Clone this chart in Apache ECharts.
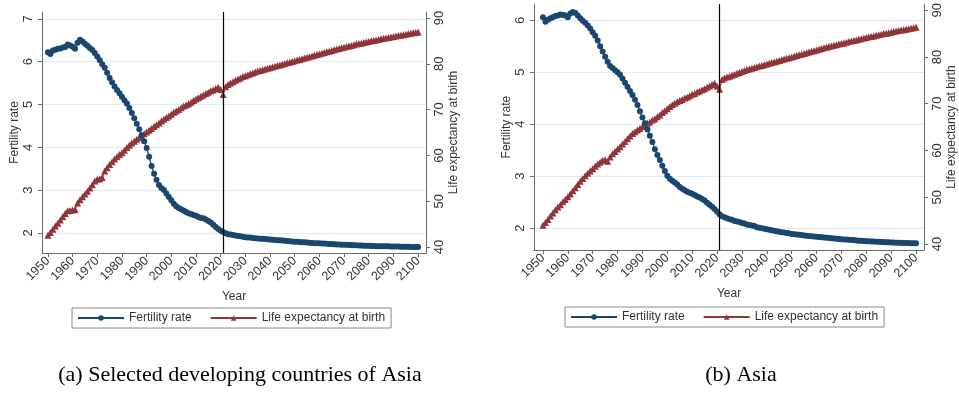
<!DOCTYPE html>
<html>
<head>
<meta charset="utf-8">
<script src="https://cdn.jsdelivr.net/npm/echarts@6/dist/echarts.min.js"></script>
<style>
  html, body { margin: 0; padding: 0; background: #fff; }
  #chart { width: 959px; height: 396px; }
</style>
</head>
<body>
<div id="chart"></div>
<script>
// years run 1950..2100, one value per year
const firstYear = 1950;
const projectionYear = 2021;
const yearTicks = [1950, 1960, 1970, 1980, 1990, 2000, 2010, 2020, 2030, 2040, 2050, 2060, 2070, 2080, 2090, 2100];
const fertilityTicksA = [2, 3, 4, 5, 6, 7];
const fertilityTicksB = [2, 3, 4, 5, 6];
const lifeTicks = [40, 50, 60, 70, 80, 90];

// (a) Selected developing countries of Asia
const fertilityA = [
  6.22, 6.18, 6.26, 6.28, 6.30, 6.31, 6.33, 6.34, 6.40, 6.38,
  6.35, 6.30, 6.44, 6.51, 6.47, 6.42, 6.37, 6.32, 6.27, 6.20,
  6.12, 6.03, 5.94, 5.86, 5.74, 5.62, 5.52, 5.42, 5.34, 5.26,
  5.18, 5.10, 5.02, 4.92, 4.80, 4.68, 4.55, 4.42, 4.28, 4.14,
  3.98, 3.78, 3.56, 3.38, 3.24, 3.12, 3.05, 3.00, 2.92, 2.84,
  2.76, 2.68, 2.62, 2.58, 2.55, 2.52, 2.49, 2.46, 2.44, 2.42,
  2.40, 2.37, 2.35, 2.34, 2.31, 2.28, 2.24, 2.19, 2.14, 2.09,
  2.05, 2.02, 1.99, 1.97, 1.96, 1.95, 1.94, 1.93, 1.92, 1.91,
  1.90, 1.895, 1.89, 1.88, 1.875, 1.87, 1.865, 1.86, 1.855, 1.85,
  1.845, 1.84, 1.835, 1.83, 1.825, 1.82, 1.815, 1.81, 1.805, 1.80,
  1.795, 1.79, 1.785, 1.78, 1.78, 1.775, 1.77, 1.765, 1.76, 1.76,
  1.755, 1.75, 1.75, 1.745, 1.74, 1.74, 1.735, 1.73, 1.73, 1.725,
  1.72, 1.72, 1.715, 1.715, 1.71, 1.71, 1.705, 1.705, 1.70, 1.70,
  1.70, 1.695, 1.695, 1.69, 1.69, 1.69, 1.685, 1.685, 1.685, 1.68,
  1.68, 1.68, 1.68, 1.675, 1.675, 1.675, 1.675, 1.67, 1.67, 1.67,
  1.67
];
const lifeA = [
  42.6, 43.2, 43.9, 44.6, 45.2, 45.9, 46.6, 47.3, 47.9, 48.0,
  48.1, 48.2, 49.6, 50.3, 51.0, 51.6, 52.2, 52.9, 53.6, 54.4,
  54.8, 54.9, 55.2, 56.6, 57.3, 58.0, 58.6, 59.2, 59.7, 60.2,
  60.6, 61.1, 61.7, 62.2, 62.7, 63.1, 63.5, 63.9, 64.3, 64.7,
  65.1, 65.5, 65.9, 66.3, 66.7, 67.1, 67.5, 67.9, 68.3, 68.6,
  69.0, 69.4, 69.7, 70.0, 70.4, 70.8, 71.0, 71.3, 71.6, 72.0,
  72.3, 72.6, 72.9, 73.2, 73.5, 73.8, 74.1, 74.3, 74.6, 74.9,
  74.4, 73.3, 75.0, 75.5, 75.8, 76.1, 76.4, 76.7, 76.9, 77.2,
  77.4, 77.6, 77.8, 78.0, 78.2, 78.4, 78.55, 78.7, 78.85, 79.0,
  79.15, 79.3, 79.45, 79.6, 79.75, 79.9, 80.05, 80.2, 80.35, 80.5,
  80.65, 80.8, 80.95, 81.1, 81.25, 81.4, 81.55, 81.7, 81.85, 82.0,
  82.15, 82.3, 82.45, 82.6, 82.75, 82.9, 83.05, 83.2, 83.35, 83.5,
  83.6, 83.75, 83.9, 84.0, 84.15, 84.3, 84.4, 84.5, 84.65, 84.75,
  84.85, 85.0, 85.1, 85.2, 85.3, 85.45, 85.55, 85.65, 85.75, 85.85,
  85.95, 86.05, 86.15, 86.25, 86.35, 86.45, 86.55, 86.65, 86.75, 86.85,
  86.95
];

// (b) Asia
const fertilityB = [
  6.06, 5.97, 6.01, 6.04, 6.06, 6.08, 6.09, 6.11, 6.10, 6.09,
  6.06, 6.13, 6.16, 6.14, 6.09, 6.04, 5.99, 5.95, 5.90, 5.84,
  5.77, 5.70, 5.61, 5.50, 5.40, 5.30, 5.20, 5.12, 5.08, 5.04,
  5.00, 4.95, 4.88, 4.80, 4.72, 4.64, 4.56, 4.47, 4.37, 4.25,
  4.13, 4.02, 3.90, 3.78, 3.66, 3.52, 3.41, 3.31, 3.20, 3.10,
  3.01, 2.95, 2.91, 2.88, 2.84, 2.79, 2.76, 2.73, 2.70, 2.68,
  2.66, 2.64, 2.61, 2.59, 2.56, 2.53, 2.49, 2.45, 2.41, 2.37,
  2.32, 2.27, 2.23, 2.21, 2.19, 2.17, 2.16, 2.14, 2.13, 2.12,
  2.10, 2.09, 2.07, 2.06, 2.05, 2.04, 2.02, 2.01, 2.00, 1.99,
  1.98, 1.97, 1.96, 1.95, 1.94, 1.93, 1.92, 1.915, 1.905, 1.90,
  1.89, 1.885, 1.88, 1.875, 1.87, 1.86, 1.855, 1.85, 1.845, 1.84,
  1.835, 1.83, 1.825, 1.82, 1.815, 1.81, 1.805, 1.80, 1.795, 1.79,
  1.785, 1.78, 1.78, 1.775, 1.77, 1.77, 1.765, 1.76, 1.76, 1.755,
  1.75, 1.75, 1.745, 1.745, 1.74, 1.74, 1.735, 1.735, 1.73, 1.73,
  1.725, 1.725, 1.72, 1.72, 1.72, 1.715, 1.715, 1.715, 1.71, 1.71,
  1.71
];
const lifeB = [
  44.0, 44.6, 45.2, 46.0, 46.6, 47.3, 47.9, 48.4, 49.0, 49.5,
  50.1, 50.7, 51.4, 52.0, 52.7, 53.4, 54.0, 54.6, 55.1, 55.6,
  56.1, 56.6, 57.1, 57.5, 57.9, 58.0, 57.7, 58.6, 59.3, 59.8,
  60.3, 60.8, 61.4, 61.9, 62.5, 63.1, 63.6, 64.0, 64.4, 64.7,
  65.1, 65.4, 65.8, 66.1, 66.5, 66.8, 67.2, 67.6, 68.1, 68.5,
  68.9, 69.4, 69.8, 70.1, 70.4, 70.7, 70.9, 71.2, 71.4, 71.7,
  72.0, 72.2, 72.5, 72.7, 73.0, 73.2, 73.5, 73.8, 74.1, 74.4,
  73.8, 73.1, 75.2, 75.5, 75.7, 75.9, 76.1, 76.3, 76.5, 76.7,
  76.9, 77.1, 77.3, 77.45, 77.6, 77.75, 77.9, 78.05, 78.2, 78.35,
  78.5, 78.65, 78.8, 78.95, 79.1, 79.25, 79.4, 79.55, 79.7, 79.85,
  80.0, 80.15, 80.3, 80.45, 80.6, 80.75, 80.9, 81.05, 81.2, 81.35,
  81.5, 81.65, 81.8, 81.95, 82.1, 82.25, 82.35, 82.5, 82.6, 82.75,
  82.9, 83.0, 83.15, 83.3, 83.4, 83.55, 83.65, 83.8, 83.9, 84.05,
  84.15, 84.3, 84.4, 84.5, 84.65, 84.75, 84.85, 85.0, 85.1, 85.2,
  85.3, 85.45, 85.55, 85.65, 85.75, 85.85, 85.95, 86.05, 86.15, 86.25,
  86.35
];

const FONT = '"Liberation Sans", Arial, sans-serif';
const AXIS_COLOR = '#6b6b6b';
const TEXT_COLOR = '#333';
const NAVY = '#1a476f';
const MAROON = '#90353b';

function toPairs(values) {
  return values.map((v, i) => [firstYear + i, v]);
}

// shared look of every axis
function axisBase(ticks) {
  return {
    type: 'value',
    axisLine: { show: true, onZero: false, lineStyle: { color: AXIS_COLOR, width: 1 } },
    axisTick: { show: true, length: 4, customValues: ticks, lineStyle: { color: AXIS_COLOR } },
    axisLabel: {
      customValues: ticks,
      color: TEXT_COLOR,
      fontFamily: FONT,
      fontSize: 12,
      formatter: (v) => String(v)
    },
    nameTextStyle: { color: TEXT_COLOR, fontFamily: FONT, fontSize: 12 },
    splitLine: { show: false }
  };
}

function xAxis(gridIndex, min, max) {
  const a = axisBase(yearTicks);
  a.gridIndex = gridIndex;
  a.min = min;
  a.max = max;
  a.name = 'Year';
  a.nameLocation = 'middle';
  a.nameGap = 33;
  a.axisLabel.rotate = 45;
  a.axisLabel.margin = 6;
  a.axisLabel.fontSize = 12.5;
  return a;
}

function fertilityAxis(gridIndex, min, max, ticks) {
  const a = axisBase(ticks);
  a.gridIndex = gridIndex;
  a.position = 'left';
  a.min = min;
  a.max = max;
  a.name = 'Fertility rate';
  a.nameLocation = 'middle';
  a.nameRotate = 90;
  a.nameGap = 21;
  a.axisLabel.rotate = 90;
  a.axisLabel.margin = 7;
  a.axisLabel.fontSize = 13;
  a.splitLine = { show: true, lineStyle: { color: '#e2ecf5', width: 1 } };
  return a;
}

function lifeAxis(gridIndex, min, max) {
  const a = axisBase(lifeTicks);
  a.gridIndex = gridIndex;
  a.position = 'right';
  a.min = min;
  a.max = max;
  a.name = 'Life expectancy at birth';
  a.nameLocation = 'middle';
  a.nameRotate = 90;
  a.nameGap = 22;
  a.axisLabel.rotate = 90;
  a.axisLabel.margin = 7;
  a.axisLabel.fontSize = 13;
  return a;
}

const projectionLine = {
  silent: true,
  symbol: ['none', 'none'],
  label: { show: false },
  lineStyle: { color: '#000', width: 1.2, type: 'solid' },
  data: [{ xAxis: projectionYear }]
};

function fertilitySeries(idx, values) {
  return {
    name: 'Fertility rate',
    type: 'line',
    xAxisIndex: idx,
    yAxisIndex: idx * 2,
    data: toPairs(values),
    symbol: 'circle',
    symbolSize: 6,
    z: 3,
    itemStyle: { color: NAVY },
    lineStyle: { color: NAVY, width: 1.3 },
    markLine: projectionLine
  };
}

function lifeSeries(idx, values) {
  return {
    name: 'Life expectancy at birth',
    type: 'line',
    xAxisIndex: idx,
    yAxisIndex: idx * 2 + 1,
    data: toPairs(values),
    symbol: 'triangle',
    symbolSize: 7,
    z: 2,
    itemStyle: { color: MAROON },
    lineStyle: { color: MAROON, width: 1.3 }
  };
}

function legend(left, top) {
  return {
    left: left,
    top: top,
    orient: 'horizontal',
    data: ['Fertility rate', 'Life expectancy at birth'],
    itemWidth: 46,
    itemHeight: 7,
    itemGap: 18,
    padding: [4, 6, 4, 5],
    borderColor: '#8a8a8a',
    borderWidth: 1,
    backgroundColor: '#fff',
    selectedMode: false,
    textStyle: { color: TEXT_COLOR, fontFamily: FONT, fontSize: 12 }
  };
}

const chart = echarts.init(document.getElementById('chart'), null, { renderer: 'canvas' });

const option = {
  animation: false,
  backgroundColor: '#fff',
  grid: [
    { left: 42, right: 533, top: 12, bottom: 143 },
    { left: 534, right: 31, top: 4, bottom: 146 }
  ],
  xAxis: [
    xAxis(0, 1947.6, 2103.2),
    xAxis(1, 1946.4, 2103.2)
  ],
  yAxis: [
    fertilityAxis(0, 1.53, 7.16, fertilityTicksA),
    lifeAxis(0, 38.7, 91.3),
    fertilityAxis(1, 1.58, 6.31, fertilityTicksB),
    lifeAxis(1, 38.7, 91.3)
  ],
  legend: [legend(72, 308), legend(565, 307)],
  series: [
    fertilitySeries(0, fertilityA),
    lifeSeries(0, lifeA),
    fertilitySeries(1, fertilityB),
    lifeSeries(1, lifeB)
  ],
  graphic: [
    {
      type: 'text',
      style: {
        text: '(a) Selected developing countries of Asia',
        x: 240, y: 375,
        align: 'center', verticalAlign: 'middle',
        textAlign: 'center', textVerticalAlign: 'middle',
        font: '22px "Liberation Serif", "Times New Roman", serif',
        fill: '#000'
      }
    },
    {
      type: 'text',
      style: {
        text: '(b) Asia',
        x: 741, y: 375,
        align: 'center', verticalAlign: 'middle',
        textAlign: 'center', textVerticalAlign: 'middle',
        font: '22px "Liberation Serif", "Times New Roman", serif',
        fill: '#000'
      }
    }
  ]
};

chart.setOption(option);
</script>
</body>
</html>
